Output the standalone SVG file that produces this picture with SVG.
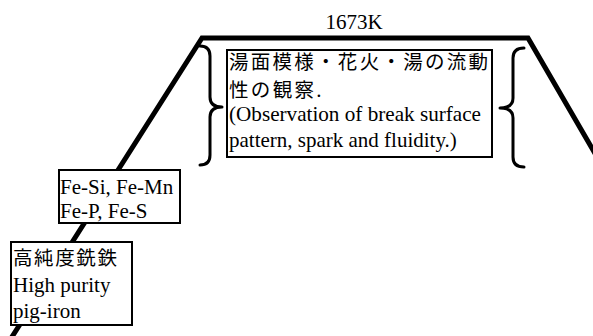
<svg xmlns="http://www.w3.org/2000/svg" width="593" height="336" viewBox="0 0 593 336">
<style>
.en{font-family:"Liberation Serif","Times New Roman",serif;font-size:21px;fill:#000}
.jp{font-family:"Noto Sans CJK JP","Noto Sans CJK SC",sans-serif;font-size:19.5px;fill:#000}
.box{fill:#fff;stroke:#000;stroke-width:2}
.brace{fill:none;stroke:#000;stroke-width:3;stroke-linecap:round;stroke-linejoin:round}
</style>
<rect width="593" height="336" fill="#fff"/>
<g id="connectors">
<polyline points="10,340 202,38 528,38 600,162" fill="none" stroke="#000" stroke-width="5" stroke-linejoin="miter"/>
<path class="brace" d="M200,46 Q210,46 210,56 L210,97 Q210,107 222,107 Q210,107 210,117 L210,155 Q210,165 200,165"/>
<path class="brace" d="M524,48 Q513,48 513,58 L513,98 Q513,108 500,108 Q513,108 513,118 L513,157 Q513,167 524,167"/>
</g>
<g id="temp">
<text class="en" x="354" y="29" text-anchor="middle">1673K</text>
</g>
<g id="observation">
<rect class="box" x="227" y="50" width="265" height="107"/>
<text class="jp" x="229" y="69" textLength="259" lengthAdjust="spacing">湯面模様・花火・湯の流動</text>
<text class="jp" x="229" y="97"><tspan textLength="85" lengthAdjust="spacing">性の観察</tspan><tspan class="en">.</tspan></text>
<text class="en" x="229" y="121" textLength="252" lengthAdjust="spacingAndGlyphs">(Observation of break surface</text>
<text class="en" x="229" y="147">pattern, spark and fluidity.)</text>
</g>
<g id="ferroalloys">
<rect class="box" x="59" y="170" width="121" height="53"/>
<text class="en" x="60" y="194">Fe-Si, Fe-Mn</text>
<text class="en" x="60" y="218">Fe-P, Fe-S</text>
</g>
<g id="pigiron">
<rect class="box" x="11" y="242" width="121" height="83"/>
<text class="jp" x="13" y="265" textLength="104" lengthAdjust="spacing">高純度銑鉄</text>
<text class="en" x="13" y="292">High purity</text>
<text class="en" x="13" y="318">pig-iron</text>
</g>
</svg>
